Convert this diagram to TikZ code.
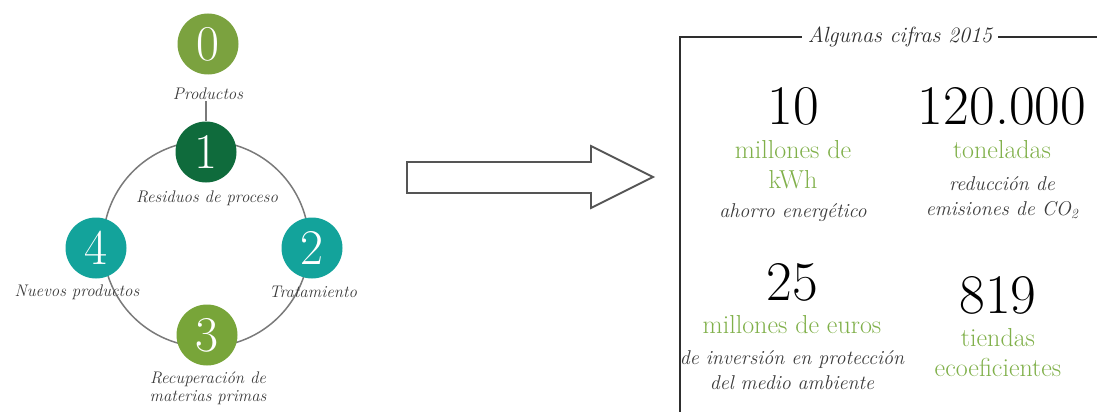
\documentclass[tikz,border=0pt]{standalone}
\usepackage{fontspec}
\begin{document}
\begin{tikzpicture}[x=1pt,y=-1pt,
  numc/.style={circle,minimum size=61pt,inner sep=0pt,text=white,font=\fontsize{50}{50}\selectfont},
  lbl/.style={font=\itshape\fontsize{16.8}{18}\selectfont,text=labgray,inner sep=1pt,align=center},
  bignum/.style={font=\fontsize{56}{56}\selectfont,text=black,inner sep=0pt},
  grn/.style={font=\fontsize{26}{30}\selectfont,text=figgreen,inner sep=0pt,align=center},
  itl/.style={font=\itshape\fontsize{20}{25}\selectfont,text=labgray,inner sep=0pt,align=center},
  ring/.style={draw=ringgray,line width=1.5pt},
  frame/.style={draw=framegray,line width=1.6pt}
]
\definecolor{c0}{HTML}{7BA23F}
\definecolor{c1}{HTML}{0F6B3C}
\definecolor{cteal}{HTML}{13A39B}
\definecolor{c3}{HTML}{78A539}
\definecolor{labgray}{HTML}{3A3A3A}
\definecolor{figgreen}{HTML}{80B04A}
\definecolor{ringgray}{HTML}{7A7A7A}
\definecolor{framegray}{HTML}{2E2E2E}
\definecolor{arrowgray}{HTML}{555555}
\useasboundingbox (0,0) rectangle (1097,412);
% ring
\draw[ring] (206,244) circle[radius=103];
% nodes
\node[numc,fill=c0] (n0) at (208,44) {0};
\node[numc,fill=c1] (n1) at (206,152) {1};
\node[numc,fill=cteal] (n2) at (312,248) {2};
\node[numc,fill=c3] (n3) at (207,335) {3};
\node[numc,fill=cteal] (n4) at (96,248) {4};
% labels
\node[lbl] (p0) at (208,94) {Productos};
\node[lbl] (p1) at (207,198) {Residuos de proceso};
\node[lbl] (p2) at (313,292) {Tratamiento};
\node[lbl] (p4) at (77,292) {Nuevos productos};
\node[lbl] (p3) at (208,388) {Recuperación de\\materias primas};
\draw[ring] (n1.north |- p0.south) -- (n1.north);
% block arrow
\coordinate (a1) at (407,162);
\coordinate (a2) at (591,162);
\coordinate (a3) at (591,146);
\coordinate (a4) at (653,177);
\coordinate (a5) at (591,208);
\coordinate (a6) at (591,193);
\coordinate (a7) at (407,193);
\draw[draw=arrowgray,line width=1.8pt,line join=miter] (a1) -- (a2) -- (a3) -- (a4) -- (a5) -- (a6) -- (a7) -- cycle;
% frame
\node[font=\itshape\fontsize{22}{24}\selectfont,text=framegray,inner sep=6pt] (title) at (900,37) {Algunas cifras 2015};
\coordinate (fbl) at (680,412);
\coordinate (ftl) at (680,37);
\coordinate (ftr) at (1097,37);
\draw[frame] (fbl) -- (ftl) -- (title.west);
\draw[frame] (title.east) -- (ftr);
% figures
\node[bignum] (f1) at (793,106) {10};
\node[grn] (g1) at (793,165) {millones de\\kWh};
\node[itl] (i1) at (793,213) {ahorro energético};
\node[bignum] (f2) at (1002,106) {120.000};
\node[grn] (g2) at (1002,150) {toneladas};
\node[itl] (i2) at (1002,198) {reducción de\\emisiones de CO\textsubscript{2}};
\node[bignum] (f3) at (792,282) {25};
\node[grn] (g3) at (792,325) {millones de euros};
\node[itl] (i3) at (792,370) {de inversión en protección\\del medio ambiente};
\node[bignum] (f4) at (998,295) {819};
\node[grn] (g4) at (998,353) {tiendas\\ecoeficientes};
\end{tikzpicture}
\end{document}
